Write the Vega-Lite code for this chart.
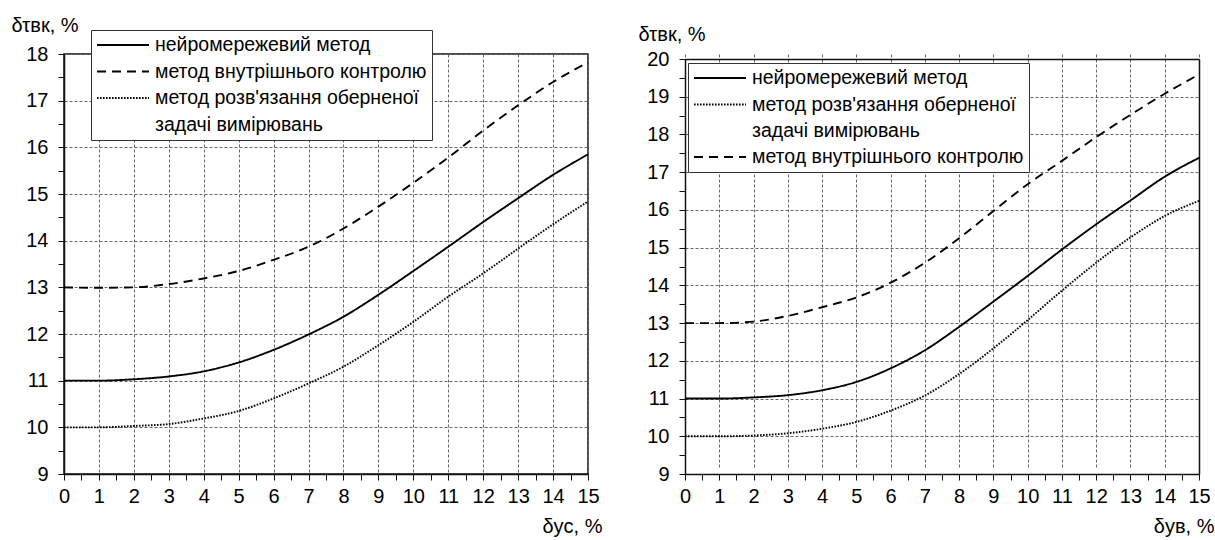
{
  "$schema": "https://vega.github.io/schema/vega-lite/v6.json",
  "padding": {"left": 10, "top": 14, "right": 0, "bottom": 0},
  "background": "white",
  "spacing": 35,
  "datasets": {
    "left": [
      {"x": 0, "y": 11, "s": "нейромережевий метод"}, {"x": 1, "y": 11, "s": "нейромережевий метод"}, {"x": 2, "y": 11.03, "s": "нейромережевий метод"}, {"x": 3, "y": 11.09, "s": "нейромережевий метод"}, {"x": 4, "y": 11.2, "s": "нейромережевий метод"}, {"x": 5, "y": 11.39, "s": "нейромережевий метод"}, {"x": 6, "y": 11.66, "s": "нейромережевий метод"}, {"x": 7, "y": 11.99, "s": "нейромережевий метод"}, {"x": 8, "y": 12.37, "s": "нейромережевий метод"}, {"x": 9, "y": 12.84, "s": "нейромережевий метод"}, {"x": 10, "y": 13.35, "s": "нейромережевий метод"}, {"x": 11, "y": 13.87, "s": "нейромережевий метод"}, {"x": 12, "y": 14.4, "s": "нейромережевий метод"}, {"x": 13, "y": 14.91, "s": "нейромережевий метод"}, {"x": 14, "y": 15.41, "s": "нейромережевий метод"}, {"x": 15, "y": 15.85, "s": "нейромережевий метод"},
      {"x": 0, "y": 13, "s": "метод внутрішнього контролю"}, {"x": 1, "y": 12.99, "s": "метод внутрішнього контролю"}, {"x": 2, "y": 13.0, "s": "метод внутрішнього контролю"}, {"x": 3, "y": 13.07, "s": "метод внутрішнього контролю"}, {"x": 4, "y": 13.19, "s": "метод внутрішнього контролю"}, {"x": 5, "y": 13.35, "s": "метод внутрішнього контролю"}, {"x": 6, "y": 13.59, "s": "метод внутрішнього контролю"}, {"x": 7, "y": 13.87, "s": "метод внутрішнього контролю"}, {"x": 8, "y": 14.26, "s": "метод внутрішнього контролю"}, {"x": 9, "y": 14.73, "s": "метод внутрішнього контролю"}, {"x": 10, "y": 15.24, "s": "метод внутрішнього контролю"}, {"x": 11, "y": 15.78, "s": "метод внутрішнього контролю"}, {"x": 12, "y": 16.36, "s": "метод внутрішнього контролю"}, {"x": 13, "y": 16.9, "s": "метод внутрішнього контролю"}, {"x": 14, "y": 17.4, "s": "метод внутрішнього контролю"}, {"x": 15, "y": 17.82, "s": "метод внутрішнього контролю"},
      {"x": 0, "y": 10, "s": "метод розв'язання оберненої задачі вимірювань"}, {"x": 1, "y": 10, "s": "метод розв'язання оберненої задачі вимірювань"}, {"x": 2, "y": 10.03, "s": "метод розв'язання оберненої задачі вимірювань"}, {"x": 3, "y": 10.07, "s": "метод розв'язання оберненої задачі вимірювань"}, {"x": 4, "y": 10.19, "s": "метод розв'язання оберненої задачі вимірювань"}, {"x": 5, "y": 10.35, "s": "метод розв'язання оберненої задачі вимірювань"}, {"x": 6, "y": 10.62, "s": "метод розв'язання оберненої задачі вимірювань"}, {"x": 7, "y": 10.94, "s": "метод розв'язання оберненої задачі вимірювань"}, {"x": 8, "y": 11.3, "s": "метод розв'язання оберненої задачі вимірювань"}, {"x": 9, "y": 11.76, "s": "метод розв'язання оберненої задачі вимірювань"}, {"x": 10, "y": 12.26, "s": "метод розв'язання оберненої задачі вимірювань"}, {"x": 11, "y": 12.8, "s": "метод розв'язання оберненої задачі вимірювань"}, {"x": 12, "y": 13.3, "s": "метод розв'язання оберненої задачі вимірювань"}, {"x": 13, "y": 13.83, "s": "метод розв'язання оберненої задачі вимірювань"}, {"x": 14, "y": 14.35, "s": "метод розв'язання оберненої задачі вимірювань"}, {"x": 15, "y": 14.84, "s": "метод розв'язання оберненої задачі вимірювань"}
    ],
    "right": [
      {"x": 0, "y": 11, "s": "нейромережевий метод"}, {"x": 1, "y": 11, "s": "нейромережевий метод"}, {"x": 2, "y": 11.03, "s": "нейромережевий метод"}, {"x": 3, "y": 11.09, "s": "нейромережевий метод"}, {"x": 4, "y": 11.22, "s": "нейромережевий метод"}, {"x": 5, "y": 11.44, "s": "нейромережевий метод"}, {"x": 6, "y": 11.8, "s": "нейромережевий метод"}, {"x": 7, "y": 12.28, "s": "нейромережевий метод"}, {"x": 8, "y": 12.9, "s": "нейромережевий метод"}, {"x": 9, "y": 13.57, "s": "нейромережевий метод"}, {"x": 10, "y": 14.25, "s": "нейромережевий метод"}, {"x": 11, "y": 14.95, "s": "нейромережевий метод"}, {"x": 12, "y": 15.62, "s": "нейромережевий метод"}, {"x": 13, "y": 16.25, "s": "нейромережевий метод"}, {"x": 14, "y": 16.88, "s": "нейромережевий метод"}, {"x": 15, "y": 17.38, "s": "нейромережевий метод"},
      {"x": 0, "y": 13, "s": "метод внутрішнього контролю"}, {"x": 1, "y": 13, "s": "метод внутрішнього контролю"}, {"x": 2, "y": 13.04, "s": "метод внутрішнього контролю"}, {"x": 3, "y": 13.19, "s": "метод внутрішнього контролю"}, {"x": 4, "y": 13.42, "s": "метод внутрішнього контролю"}, {"x": 5, "y": 13.68, "s": "метод внутрішнього контролю"}, {"x": 6, "y": 14.07, "s": "метод внутрішнього контролю"}, {"x": 7, "y": 14.6, "s": "метод внутрішнього контролю"}, {"x": 8, "y": 15.25, "s": "метод внутрішнього контролю"}, {"x": 9, "y": 15.97, "s": "метод внутрішнього контролю"}, {"x": 10, "y": 16.68, "s": "метод внутрішнього контролю"}, {"x": 11, "y": 17.3, "s": "метод внутрішнього контролю"}, {"x": 12, "y": 17.93, "s": "метод внутрішнього контролю"}, {"x": 13, "y": 18.52, "s": "метод внутрішнього контролю"}, {"x": 14, "y": 19.08, "s": "метод внутрішнього контролю"}, {"x": 15, "y": 19.59, "s": "метод внутрішнього контролю"},
      {"x": 0, "y": 10, "s": "метод розв'язання оберненої задачі вимірювань"}, {"x": 1, "y": 10, "s": "метод розв'язання оберненої задачі вимірювань"}, {"x": 2, "y": 10.02, "s": "метод розв'язання оберненої задачі вимірювань"}, {"x": 3, "y": 10.08, "s": "метод розв'язання оберненої задачі вимірювань"}, {"x": 4, "y": 10.2, "s": "метод розв'язання оберненої задачі вимірювань"}, {"x": 5, "y": 10.38, "s": "метод розв'язання оберненої задачі вимірювань"}, {"x": 6, "y": 10.68, "s": "метод розв'язання оберненої задачі вимірювань"}, {"x": 7, "y": 11.08, "s": "метод розв'язання оберненої задачі вимірювань"}, {"x": 8, "y": 11.65, "s": "метод розв'язання оберненої задачі вимірювань"}, {"x": 9, "y": 12.33, "s": "метод розв'язання оберненої задачі вимірювань"}, {"x": 10, "y": 13.08, "s": "метод розв'язання оберненої задачі вимірювань"}, {"x": 11, "y": 13.86, "s": "метод розв'язання оберненої задачі вимірювань"}, {"x": 12, "y": 14.6, "s": "метод розв'язання оберненої задачі вимірювань"}, {"x": 13, "y": 15.27, "s": "метод розв'язання оберненої задачі вимірювань"}, {"x": 14, "y": 15.84, "s": "метод розв'язання оберненої задачі вимірювань"}, {"x": 15, "y": 16.24, "s": "метод розв'язання оберненої задачі вимірювань"}
    ]
  },
  "hconcat": [
    {
      "width": 524,
      "height": 420,
      "data": {"name": "left"},
      "mark": {"type": "line", "interpolate": "monotone", "color": "black", "strokeWidth": 1.9},
      "encoding": {
        "x": {
          "field": "x", "type": "quantitative",
          "scale": {"domain": [0, 15], "nice": false},
          "axis": {
            "values": [0, 0.5, 1, 1.5, 2, 2.5, 3, 3.5, 4, 4.5, 5, 5.5, 6, 6.5, 7, 7.5, 8, 8.5, 9, 9.5, 10, 10.5, 11, 11.5, 12, 12.5, 13, 13.5, 14, 14.5, 15],
            "labelExpr": "datum.value % 1 ? '' : format(datum.value, 'd')",
            "gridOpacity": {"condition": {"test": "datum.value % 1 !== 0", "value": 0}, "value": 1},
            "labelFlush": false, "labelOverlap": false, "labelPadding": 6,
            "title": "δyс, %", "titleAlign": "right", "titleBaseline": "alphabetic", "titleX": 538, "titleY": 58
          }
        },
        "y": {
          "field": "y", "type": "quantitative",
          "scale": {"domain": [9, 18], "nice": false, "zero": false},
          "axis": {
            "values": [9, 9.5, 10, 10.5, 11, 11.5, 12, 12.5, 13, 13.5, 14, 14.5, 15, 15.5, 16, 16.5, 17, 17.5, 18],
            "labelExpr": "datum.value % 1 ? '' : format(datum.value, 'd')",
            "gridOpacity": {"condition": {"test": "datum.value % 1 !== 0", "value": 0}, "value": 1},
            "labelFlush": false, "labelOverlap": false, "labelPadding": 10,
            "title": "δτвк, %", "titleAngle": 0, "titleAlign": "left", "titleBaseline": "alphabetic", "titleX": -53, "titleY": -23
          }
        },
        "strokeDash": {
          "field": "s", "type": "nominal",
          "scale": {
            "domain": ["нейромережевий метод", "метод внутрішнього контролю", "метод розв'язання оберненої задачі вимірювань"],
            "range": [[1, 0], [9, 6], [1.6, 1.4]]
          },
          "legend": {
            "legendX": 27, "legendY": -24,
            "labelExpr": "indexof(datum.label, 'задачі') >= 0 ? [\"метод розв'язання оберненої\", \"задачі вимірювань\"] : datum.label",
            "encode": {"labels": {"update": {"lineHeight": {"value": 27}}}}
          }
        }
      }
    },
    {
      "width": 514,
      "height": 420,
      "view": {"stroke": null},
      "data": {"name": "right"},
      "layer": [
        {
          "mark": {"type": "line", "interpolate": "monotone", "color": "black", "strokeWidth": 1.9},
          "encoding": {
            "x": {
              "field": "x", "type": "quantitative",
              "scale": {"domain": [0, 15], "nice": false},
              "axis": {
                "values": [0, 0.5, 1, 1.5, 2, 2.5, 3, 3.5, 4, 4.5, 5, 5.5, 6, 6.5, 7, 7.5, 8, 8.5, 9, 9.5, 10, 10.5, 11, 11.5, 12, 12.5, 13, 13.5, 14, 14.5, 15],
                "labelExpr": "datum.value % 1 ? '' : format(datum.value, 'd')",
                "gridOpacity": {"condition": {"test": "datum.value % 1 !== 0", "value": 0}, "value": 1},
                "labelFlush": false, "labelOverlap": false, "labelPadding": 6,
                "title": "δyв, %", "titleAlign": "right", "titleBaseline": "alphabetic", "titleX": 529, "titleY": 58
              }
            },
            "y": {
              "field": "y", "type": "quantitative",
              "scale": {"domain": [9, 20], "nice": false, "zero": false, "range": [420, 5]},
              "axis": {
                "values": [9, 9.5, 10, 10.5, 11, 11.5, 12, 12.5, 13, 13.5, 14, 14.5, 15, 15.5, 16, 16.5, 17, 17.5, 18, 18.5, 19, 19.5, 20],
                "labelExpr": "datum.value % 1 ? '' : format(datum.value, 'd')",
                "gridOpacity": {"condition": {"test": "datum.value % 1 !== 0", "value": 0}, "value": 1},
                "labelFlush": false, "labelOverlap": false, "labelPadding": 10,
                "title": "δτвк, %", "titleAngle": 0, "titleAlign": "left", "titleBaseline": "alphabetic", "titleX": -47, "titleY": -14
              }
            },
            "strokeDash": {
              "field": "s", "type": "nominal",
              "scale": {
                "domain": ["нейромережевий метод", "метод розв'язання оберненої задачі вимірювань", "метод внутрішнього контролю"],
                "range": [[1, 0], [1.6, 1.4], [9, 6]]
              },
              "legend": {
                "legendX": 3, "legendY": 9,
                "labelExpr": "indexof(datum.label, 'задачі') >= 0 ? [\"метод розв'язання оберненої\", \"задачі вимірювань\"] : datum.label",
                "encode": {"labels": {"update": {"lineHeight": {"value": 26}}}}
              }
            }
          }
        },
        {
          "mark": {"type": "line", "opacity": 0},
          "encoding": {
            "x": {"field": "x", "type": "quantitative", "axis": {"orient": "top", "offset": -5, "labels": false, "ticks": false, "grid": false, "title": null}},
            "y": {"field": "y", "type": "quantitative", "axis": {"orient": "right", "labels": false, "ticks": false, "grid": false, "title": null}},
            "detail": {"field": "s"}
          }
        }
      ],
      "resolve": {"axis": {"x": "independent", "y": "independent"}}
    }
  ],
  "resolve": {"scale": {"strokeDash": "independent"}, "legend": {"strokeDash": "independent"}},
  "config": {
    "font": "Liberation Sans",
    "view": {"stroke": "#111", "strokeWidth": 1.5},
    "axis": {
      "labelFont": "Liberation Sans", "labelFontSize": 20, "labelColor": "black",
      "domainColor": "#111", "domainWidth": 1.5,
      "tickColor": "#111", "tickSize": 6, "tickWidth": 1,
      "gridColor": "#666", "gridDash": [3, 2], "gridWidth": 1,
      "titleFont": "Liberation Sans", "titleFontSize": 20, "titleFontWeight": "normal", "titleColor": "black"
    },
    "legend": {
      "orient": "none", "title": null,
      "symbolType": "M-3,0H3", "symbolSize": 300, "symbolStrokeWidth": 2, "symbolStrokeColor": "black", "symbolOffset": 17,
      "labelFont": "Liberation Sans", "labelFontSize": 19.5, "labelColor": "black", "labelLimit": 600, "labelOffset": 22,
      "padding": 5, "rowPadding": 6.5, "strokeColor": "#333", "fillColor": "white"
    }
  }
}
